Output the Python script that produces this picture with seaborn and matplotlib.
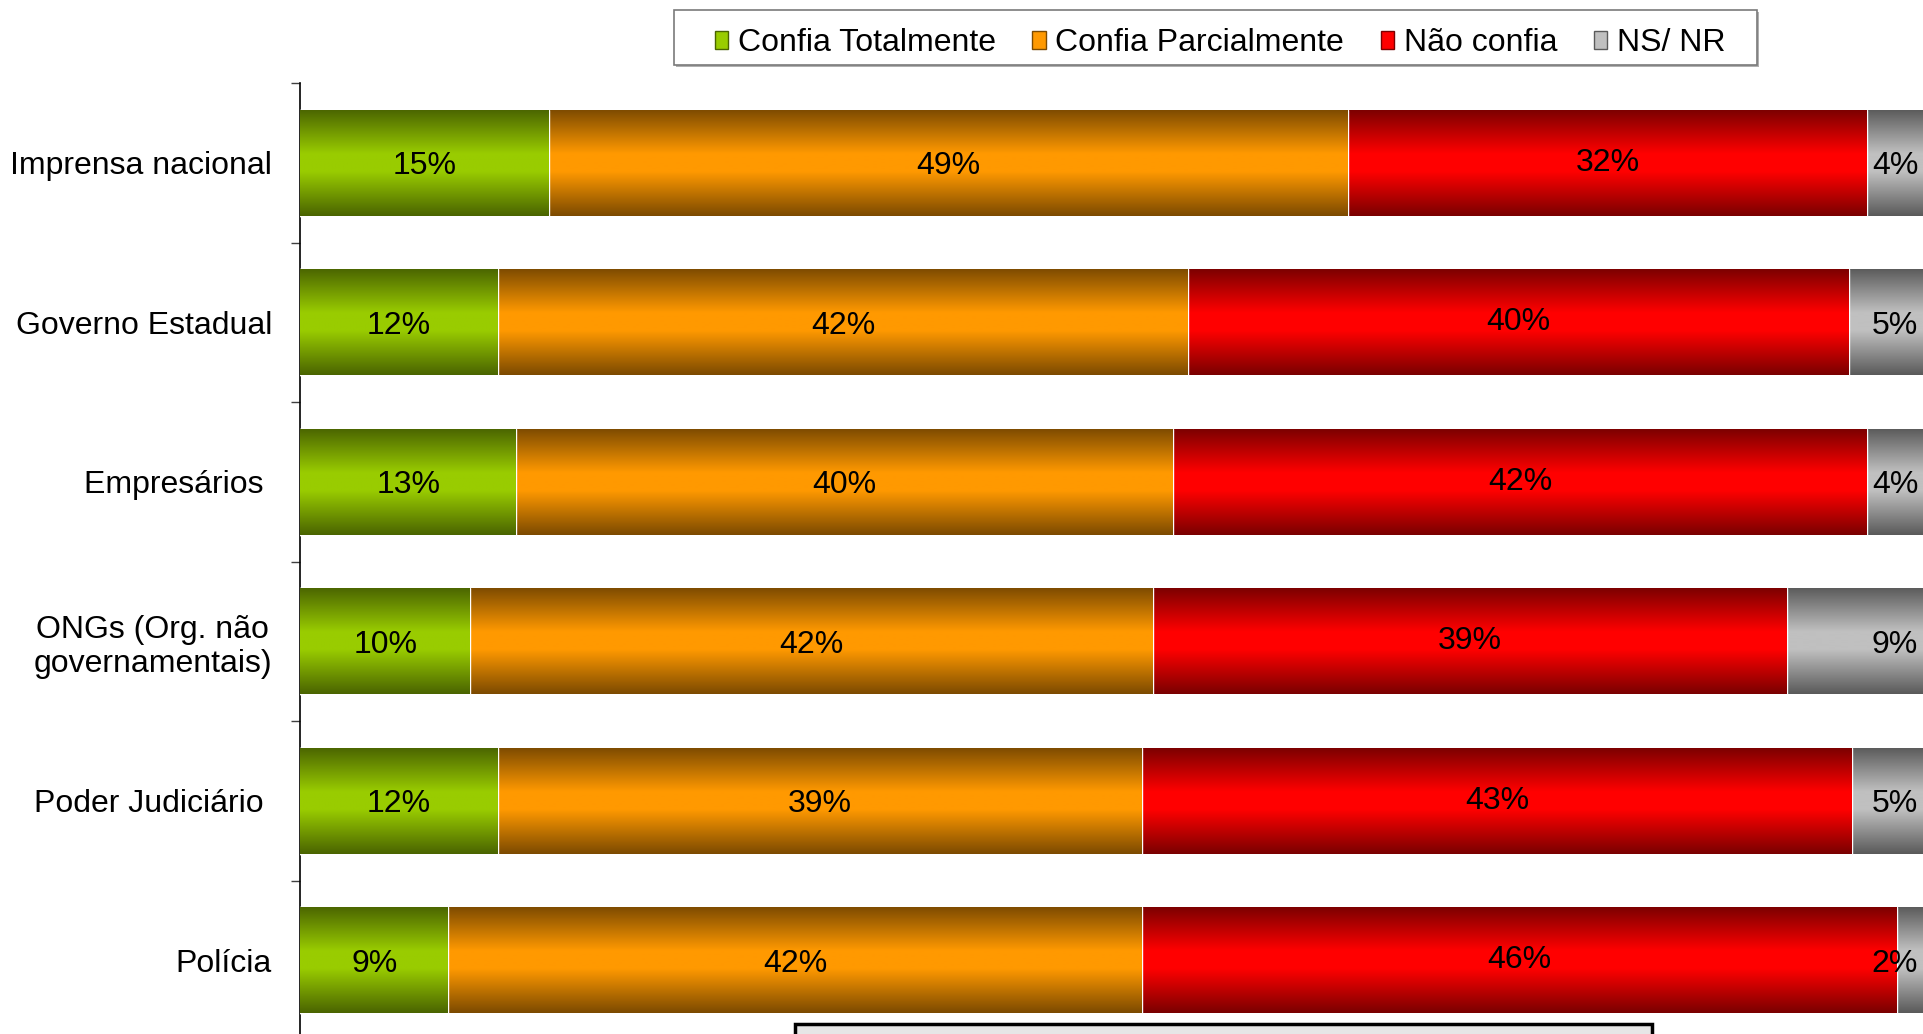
import numpy as np
import pandas as pd
import matplotlib.pyplot as plt
import seaborn as sns
from matplotlib.colors import LinearSegmentedColormap
from matplotlib.patches import Patch, Rectangle

categorias = ['Imprensa nacional', 'Governo Estadual', 'Empresários ',
              'ONGs (Org. não\ngovernamentais)', 'Poder Judiciário ', 'Polícia']
confia_totalmente = [15.1, 12.0, 13.1, 10.3, 12.0, 9.0]
confia_parcialmente = [48.6, 42.0, 40.0, 41.55, 39.2, 42.2]
nao_confia = [31.6, 40.2, 42.2, 38.55, 43.2, 45.9]
ns_nr = [4.2, 5.2, 4.3, 8.8, 5.1, 2.0]

series = ['Confia Totalmente', 'Confia Parcialmente', 'Não confia', 'NS/ NR']
cores_claras = ['#99cc00', '#ff9900', '#ff0000', '#c0c0c0']
cores_escuras = ['#4a6400', '#7c4a00', '#7a0000', '#5a5a5a']

df = pd.DataFrame({'categoria': categorias,
                   series[0]: confia_totalmente,
                   series[1]: confia_parcialmente,
                   series[2]: nao_confia,
                   series[3]: ns_nr})
acum = df[series].cumsum(axis=1)
acum['categoria'] = categorias

sns.set_theme(style='white')
plt.rcParams['font.family'] = ['Liberation Sans', 'DejaVu Sans']
plt.rcParams['text.color'] = 'black'

W, H = 1924, 1034
fig = plt.figure(figsize=(W / 100, H / 100), dpi=100)
ax = fig.add_axes([300.5 / W, 1 - 1040 / H, 1644 / W, (1040 - 83) / H])

# gradiente vertical: escuro nas bordas, claro no meio
t = np.linspace(0, 1, 200)
perfil = np.clip((1 - np.abs(2 * t - 1)) * 1.2, 0, 1)

# barras empilhadas: desenha do acumulado maior para o menor
for k in reversed(range(4)):
    n0 = len(ax.patches)
    sns.barplot(data=acum, x=series[k], y='categoria', orient='h', width=0.667,
                color=cores_claras[k], ax=ax, zorder=(4 - k) * 2)
    cmap = LinearSegmentedColormap.from_list('g%d' % k, [cores_escuras[k], cores_claras[k]])
    for p in ax.patches[n0:]:
        x0, y0 = p.get_x(), p.get_y()
        img = ax.imshow(perfil[:, None], cmap=cmap, vmin=0, vmax=1, aspect='auto',
                        extent=[x0, x0 + p.get_width(), y0, y0 + p.get_height()],
                        zorder=(4 - k) * 2 + 1, interpolation='bilinear')
        img.set_clip_path(p)

ax.set_xlim(0, 100)
ax.set_ylim(5.5, -0.5)

# rótulos de dados
for k, s in enumerate(series):
    for i in range(len(categorias)):
        v = df[s][i]
        centro = acum[s][i] - v / 2
        if k == 3:
            ax.text(98.4, i + 0.023, f'{v:.0f}%', ha='right', va='center', fontsize=23, zorder=20)
        else:
            dy = 0.0 if k == 2 else 0.023
            ax.text(centro, i + dy, f'{v:.0f}%', ha='center', va='center', fontsize=23, zorder=20)

ax.set_xticks([])
ax.set_xlabel('')
ax.set_ylabel('')
ax.set_yticks(np.arange(-0.5, 6, 1), labels=[''] * 7)
ax.set_yticks(range(len(categorias)), labels=categorias, minor=True)
for lab in ax.get_yticklabels(minor=True):
    lab.set_multialignment('center')
ax.tick_params(axis='y', which='major', left=True, length=6.5, width=1, color='#404040', direction='out')
ax.tick_params(axis='y', which='minor', left=True, length=0, pad=20.5, labelsize=23, labelcolor='black')
for lado in ['top', 'right', 'bottom']:
    ax.spines[lado].set_visible(False)
ax.spines['left'].set_color('black')
ax.spines['left'].set_linewidth(1.2)

# moldura da legenda
fig.patches.append(Rectangle((676 / W, 1 - 67 / H), (1757 - 674) / W, 55 / H,
                             transform=fig.transFigure, facecolor='#b0b0b0',
                             edgecolor='none', zorder=0))
fig.patches.append(Rectangle((674 / W, 1 - 65 / H), (1757 - 674) / W, 55 / H,
                             transform=fig.transFigure, facecolor='white',
                             edgecolor='#7a7a7a', linewidth=1.2, zorder=1))

handles = [Patch(facecolor=c, edgecolor=e, linewidth=1) for c, e in zip(cores_claras, cores_escuras)]
leg = fig.legend(handles, series, loc='center', bbox_to_anchor=(1220 / W, 1 - 43 / H), ncol=4,
                 frameon=False, fontsize=23, borderaxespad=0,
                 handlelength=0.42, handleheight=0.5, handletextpad=0.3,
                 columnspacing=1.15, borderpad=0)

# caixa de texto cortada na parte de baixo
fig.patches.append(Rectangle((795 / W, -0.02), (1652 - 795) / W, 0.02 + 10 / H,
                             transform=fig.transFigure, facecolor='#e6e6e6',
                             edgecolor='black', linewidth=2.5))

fig.savefig('out.png', dpi=100)
